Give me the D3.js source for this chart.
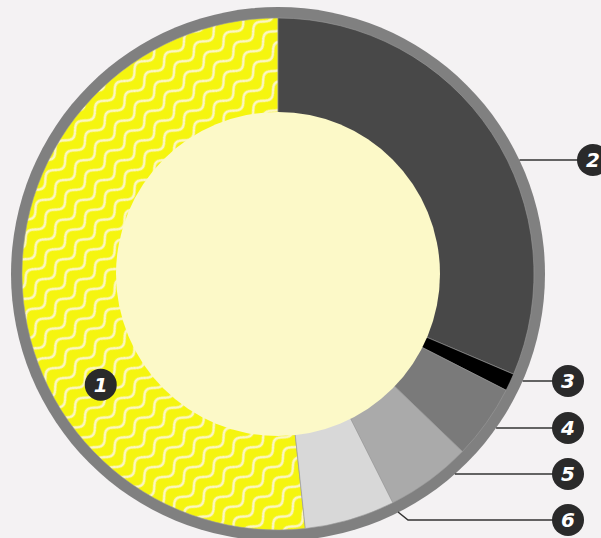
<!DOCTYPE html>
<html>
<head>
<meta charset="utf-8">
<script src="https://cdn.jsdelivr.net/npm/d3@7"></script>
<style>
  html, body { margin: 0; padding: 0; background: #f4f2f3; }
  svg { display: block; }
  .badge text { font-family: 'DejaVu Sans', sans-serif; font-weight: bold; font-style: italic; fill: #fff; }
</style>
</head>
<body>
<svg id="chart" width="601" height="538"></svg>
<script>
// slice values (percent), in drawing order
const labels = ['1', '2', '3', '4', '5', '6']
const values = [51.7, 31.4, 1.1, 4.7, 5.4, 5.7]
const colors = ['url(#waves)', '#484848', '#000000', '#7a7a7a', '#aaaaaa', '#d8d8d8']
// callout rows for the small slices (y of the badge)
const calloutLabels = ['2', '3', '4', '5', '6']
const calloutY = [160, 381, 428, 474, 520]

const width = 601, height = 538
const cx = 278, cy = 274
const rInner = 162, rOuter = 256, rRing = 267

const svg = d3.select('#chart')

// wavy pattern for slice 1 (one sine period per tile)
const waveLen = 28, waveGap = 14, waveAmp = 4
const defs = svg.append('defs')
const pat = defs.append('pattern')
  .attr('id', 'waves')
  .attr('patternUnits', 'userSpaceOnUse')
  .attr('width', waveLen)
  .attr('height', waveGap)
  .attr('patternTransform', 'rotate(-45)')
pat.append('rect')
  .attr('width', waveLen).attr('height', waveGap)
  .attr('fill', '#f5f50f')
const wavePts = d3.range(-4, waveLen + 5, 1).map(x =>
  [x, waveGap / 2 + waveAmp * Math.sin(2 * Math.PI * x / waveLen)])
pat.append('path')
  .attr('d', d3.line()(wavePts))
  .attr('fill', 'none')
  .attr('stroke', '#fcf6c4')
  .attr('stroke-width', 2.6)

const g = svg.append('g').attr('transform', `translate(${cx},${cy})`)

// grey outer ring
g.append('circle').attr('r', rRing).attr('fill', '#808080')

const total = d3.sum(values)
const start = -2 * Math.PI * values[0] / total
const pie = d3.pie().sort(null)
  .startAngle(start).endAngle(start + 2 * Math.PI)
const arc = d3.arc().innerRadius(rInner - 2).outerRadius(rOuter)

const arcs = pie(values)
g.selectAll('path.slice')
  .data(arcs)
  .enter()
  .append('path')
  .attr('class', 'slice')
  .attr('d', arc)
  .attr('fill', (d, i) => colors[i])
  .attr('stroke', '#9a9a9a')
  .attr('stroke-width', 0.6)

// centre disc
g.append('circle').attr('r', rInner).attr('fill', '#fcf9c8')

// leader lines: start on the ring at the badge's height
const bx = 568 - cx
const leaders = g.append('g')
calloutY.forEach(function(y, i) {
  const dy = y - cy
  let pts
  if (i === calloutY.length - 1) {
    const ey = dy - 8
    const ex = Math.sqrt(rRing * rRing - ey * ey) - 1
    pts = [[ex, ey], [ex + 10, dy], [bx, dy]]
  } else {
    const ex = Math.sqrt(rRing * rRing - dy * dy)
    pts = [[ex, dy], [i === 0 ? 593 - cx : bx, dy]]
  }
  leaders.append('path')
    .attr('d', d3.line()(pts))
    .attr('fill', 'none')
    .attr('stroke', '#333')
    .attr('stroke-width', 1.5)
})

function badge(x, y, t) {
  const b = svg.append('g').attr('class', 'badge')
    .attr('transform', `translate(${x},${y})`)
  b.append('circle').attr('r', 16).attr('fill', '#2a2a2a')
  b.append('text')
    .attr('text-anchor', 'middle')
    .attr('dy', '0.36em')
    .attr('font-size', 20)
    .text(t)
}

// label 1 sits inside its slice
const a1 = -122 * Math.PI / 180, rMid = (rInner + rOuter) / 2
badge(cx + rMid * Math.sin(a1), cy - rMid * Math.cos(a1), labels[0])

calloutLabels.forEach(function(t, i) {
  badge(i === 0 ? 593 : 568, calloutY[i], t)
})
</script>
</body>
</html>
